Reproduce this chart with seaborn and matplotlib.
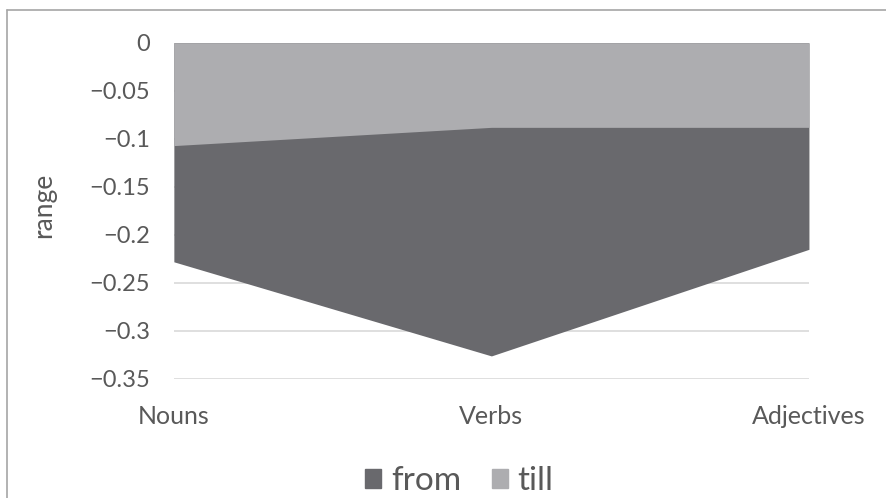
import numpy as np
import pandas as pd
import matplotlib
matplotlib.use("Agg")
import matplotlib.pyplot as plt
import seaborn as sns
from matplotlib.lines import Line2D
from matplotlib.patches import Patch

# values
categories = ["Nouns", "Verbs", "Adjectives"]
range_from = [-0.228, -0.326, -0.215]
range_till = [-0.107, -0.088, -0.088]
y_ticks = [0, -0.05, -0.1, -0.15, -0.2, -0.25, -0.3, -0.35]

df = pd.DataFrame({"word": categories, "from": range_from, "till": range_till})
df["pos"] = np.arange(len(df))

sns.set_theme(style="white")
plt.rcParams["font.family"] = ["Lato", "DejaVu Sans"]

dark = "#69696d"
light = "#adadb0"
text_col = "#595959"

fig = plt.figure(figsize=(8.87, 4.98), dpi=100)
ax = fig.add_axes([0.196, 0.239, 0.716, 0.675])

# Excel-style overlapping area chart: "from" first, "till" drawn on top
sns.lineplot(data=df, x="pos", y="from", ax=ax, color=dark, linewidth=0)
sns.lineplot(data=df, x="pos", y="till", ax=ax, color=light, linewidth=0)
ax.fill_between(df["pos"], 0, df["from"], color=dark, linewidth=0, zorder=2)
ax.fill_between(df["pos"], 0, df["till"], color=light, linewidth=0, zorder=3)

ax.set_xlim(0, len(df) - 1)
ax.set_ylim(-0.35, 0)
ax.set_yticks(y_ticks)
ax.set_yticklabels([("%g" % v).replace("-", "\u2212") for v in y_ticks])
ax.set_xticks(df["pos"])
ax.set_xticklabels(categories)
ax.yaxis.grid(True, color="#d9d9d9", linewidth=1.2)
ax.set_axisbelow(True)
for s in ax.spines.values():
    s.set_visible(False)
ax.tick_params(axis="y", length=0, pad=17, labelsize=17, labelcolor=text_col)
ax.tick_params(axis="x", length=0, pad=19, labelsize=18, labelcolor=text_col)
ax.set_xlabel("")
ax.set_ylabel("range", fontsize=19, color=text_col)
ax.yaxis.set_label_coords(-0.186, 0.515)

handles = [Patch(color=dark, label="from"), Patch(color=light, label="till")]
fig.legend(handles=handles, loc="center", bbox_to_anchor=(0.518, 0.034), ncol=2,
           frameon=False, fontsize=24, labelcolor=text_col, handlelength=0.48,
           handleheight=0.48, handletextpad=0.3, columnspacing=0.9)

# chart frame (only top and left edges are visible in the original)
fig.add_artist(Line2D([0.008, 1.0], [0.98, 0.98], color="#a6a6a6", linewidth=1.2))
fig.add_artist(Line2D([0.008, 0.008], [0.0, 0.98], color="#a6a6a6", linewidth=1.2))

fig.savefig("out.png", dpi=100)
